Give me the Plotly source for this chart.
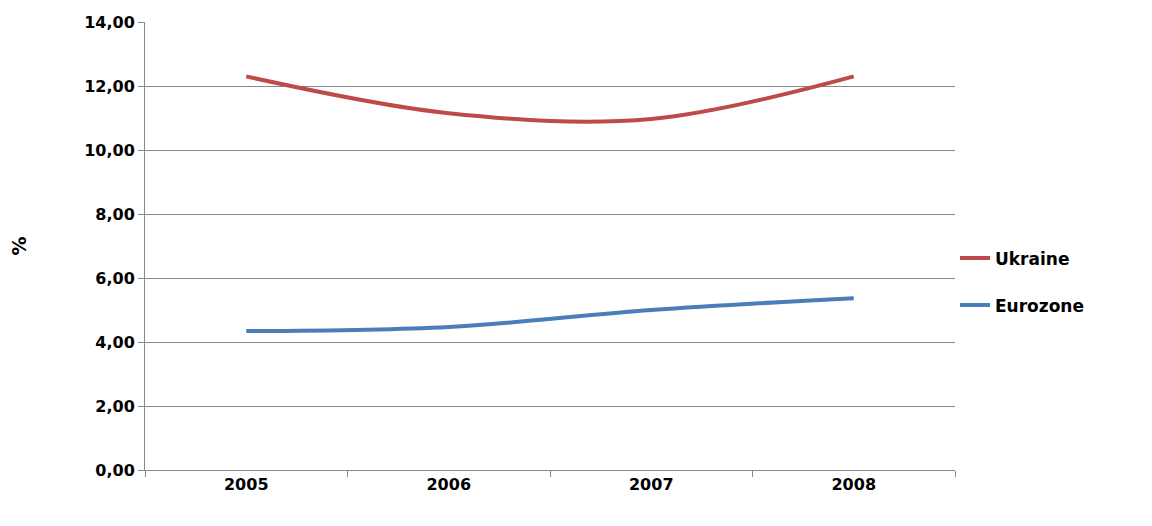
import plotly.graph_objects as go

years = ["2005", "2006", "2007", "2008"]
ukraine = [12.30, 11.15, 10.97, 12.30]
eurozone = [4.34, 4.47, 5.00, 5.37]

fig = go.Figure()
fig.add_trace(go.Scatter(x=years, y=ukraine, name="<b>Ukraine</b>", mode="lines",
                         legendgroup="a",
                         line=dict(color="#BE4B48", width=4, shape="spline")))
fig.add_trace(go.Scatter(x=years, y=eurozone, name="<b>Eurozone</b>", mode="lines",
                         legendgroup="b",
                         line=dict(color="#4A7EBB", width=4, shape="spline")))

tf = dict(size=16, family="DejaVu Sans", color="#000", weight="bold")
fig.update_layout(
    width=1152, height=526,
    margin=dict(l=137, r=205, t=14, b=64),
    plot_bgcolor="white", paper_bgcolor="white",
    font=dict(family="DejaVu Sans", size=16, color="#000000"),
    legend=dict(x=1.0, y=0.42, yanchor="middle", font=dict(size=17),
                tracegroupgap=22),
    xaxis=dict(type="category", range=[-0.5, 3.5], tickson="boundaries",
               ticks="outside", ticklen=6, tickcolor="#888888",
               showline=True, linecolor="#888888", showgrid=False,
               tickfont=tf, automargin=False),
    yaxis=dict(range=[0, 14], dtick=2, tickformat=".2f",
               ticks="outside", ticklen=6, tickcolor="#888888",
               showline=True, linecolor="#888888", gridcolor="#888888",
               zeroline=False, automargin=False,
               title=dict(text="<b>%</b>", standoff=54),
               tickfont=tf),
    separators=", ",
)
fig.write_html("out.html")
